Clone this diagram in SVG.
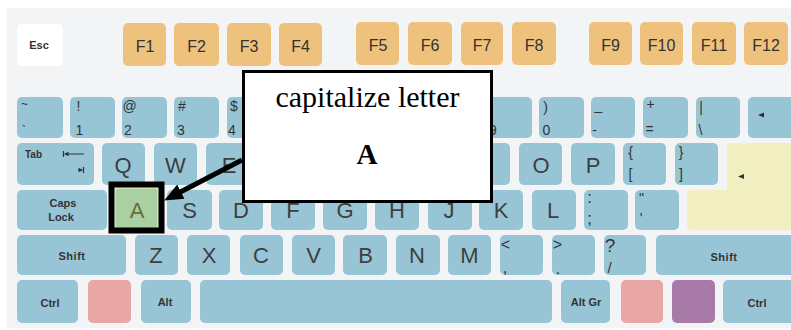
<svg xmlns="http://www.w3.org/2000/svg" width="791" height="330" viewBox="0 0 791 330">
<defs>
<style>
.k{fill:#98c5d6}
.fk{fill:#eec17d}
.wk{fill:#ffffff}
.pk{fill:#e8a7a5}
.pu{fill:#a87aa8}
.ye{fill:#f1eec0}
.gr{fill:#a9d0a2;stroke:#dfe8b5;stroke-width:1.5}
.L{font-family:"Liberation Sans",Arial,sans-serif;font-size:22px;fill:#3e3e3e;text-anchor:middle}
.F{font-family:"Liberation Sans",Arial,sans-serif;font-size:16px;fill:#333;text-anchor:middle}
.S{font-family:"Liberation Sans",Arial,sans-serif;font-size:14px;fill:#333;text-anchor:middle}
.B{font-family:"Liberation Sans",Arial,sans-serif;font-size:11px;font-weight:bold;fill:#333;text-anchor:middle}
.ic{fill:#333}
.icl{stroke:#333;stroke-width:1.2;fill:none}
.serif{font-family:"Liberation Serif","Times New Roman",serif;fill:#000;text-anchor:middle}
</style>
<marker id="ah" markerUnits="userSpaceOnUse" markerWidth="20" markerHeight="18" viewBox="0 0 20 18" refX="5" refY="9" orient="auto">
<path d="M0,1 L19,9 L0,17 Z" fill="#000"/>
</marker>
</defs>
<rect x="7" y="8" width="790" height="320" fill="#f3f4f6"/>

<!-- Function row -->
<g id="key-esc"><rect class="wk" x="17" y="24" width="46" height="42" rx="5"/><text class="B" x="39" y="49">Esc</text></g>
<g id="key-f1"><rect class="fk" x="123" y="23" width="43" height="43" rx="5"/><text class="F" x="145" y="52">F1</text></g>
<g id="key-f2"><rect class="fk" x="174" y="23" width="45" height="43" rx="5"/><text class="F" x="196.5" y="52">F2</text></g>
<g id="key-f3"><rect class="fk" x="227" y="23" width="44" height="43" rx="5"/><text class="F" x="249" y="52">F3</text></g>
<g id="key-f4"><rect class="fk" x="279" y="23" width="43" height="43" rx="5"/><text class="F" x="300.5" y="52">F4</text></g>
<g id="key-f5"><rect class="fk" x="356" y="22" width="43" height="43" rx="5"/><text class="F" x="378" y="51">F5</text></g>
<g id="key-f6"><rect class="fk" x="408" y="22" width="44" height="43" rx="5"/><text class="F" x="430" y="51">F6</text></g>
<g id="key-f7"><rect class="fk" x="461" y="22" width="42" height="43" rx="5"/><text class="F" x="482" y="51">F7</text></g>
<g id="key-f8"><rect class="fk" x="512" y="22" width="44" height="43" rx="5"/><text class="F" x="534" y="51">F8</text></g>
<g id="key-f9"><rect class="fk" x="589" y="22" width="43" height="43" rx="5"/><text class="F" x="610.5" y="51">F9</text></g>
<g id="key-f10"><rect class="fk" x="640" y="22" width="43" height="43" rx="5"/><text class="F" x="661.5" y="51">F10</text></g>
<g id="key-f11"><rect class="fk" x="692" y="22" width="44" height="43" rx="5"/><text class="F" x="714" y="51">F11</text></g>
<g id="key-f12"><rect class="fk" x="744" y="22" width="44" height="43" rx="5"/><text class="F" x="766" y="51">F12</text></g>

<!-- Number row -->
<g id="key-grave"><rect class="k" x="17" y="97" width="46" height="41" rx="5"/><text class="S" style="font-size:12px" x="24.5" y="108">~</text><text class="S" style="font-size:12px" x="24" y="135">`</text></g>
<g id="key-1"><rect class="k" x="70" y="97" width="45" height="41" rx="5"/><text class="S" x="78.5" y="111">!</text><text class="S" x="79.5" y="135">1</text></g>
<g id="key-2"><rect class="k" x="122" y="97" width="45" height="41" rx="5"/><text class="S" x="129.5" y="111">@</text><text class="S" x="128" y="135">2</text></g>
<g id="key-3"><rect class="k" x="174" y="97" width="45" height="41" rx="5"/><text class="S" x="182" y="111">#</text><text class="S" x="181" y="135">3</text></g>
<g id="key-4"><rect class="k" x="227" y="97" width="45" height="41" rx="5"/><text class="S" x="234" y="111">$</text><text class="S" x="232" y="135">4</text></g>
<g id="key-5"><rect class="k" x="279" y="97" width="45" height="41" rx="5"/></g>
<g id="key-6"><rect class="k" x="331" y="97" width="45" height="41" rx="5"/></g>
<g id="key-7"><rect class="k" x="383" y="97" width="45" height="41" rx="5"/></g>
<g id="key-8"><rect class="k" x="435" y="97" width="45" height="41" rx="5"/></g>
<g id="key-9"><rect class="k" x="487" y="97" width="45" height="41" rx="5"/><text class="S" x="493" y="135">9</text></g>
<g id="key-0"><rect class="k" x="539" y="97" width="45" height="41" rx="5"/><text class="S" x="545.5" y="112">)</text><text class="S" x="546.5" y="135">0</text></g>
<g id="key-minus"><rect class="k" x="591" y="97" width="44" height="41" rx="5"/><text class="S" x="598.5" y="110">_</text><text class="S" x="594.5" y="135">-</text></g>
<g id="key-equal"><rect class="k" x="643" y="97" width="45" height="41" rx="5"/><text class="S" x="650.5" y="108.5">+</text><text class="S" x="649.5" y="134">=</text></g>
<g id="key-backslash"><rect class="k" x="696" y="97" width="44" height="41" rx="5"/><text class="S" x="701" y="112">|</text><text class="S" x="700.5" y="135">\</text></g>
<g id="key-backspace"><rect class="k" x="748" y="97" width="47" height="41" rx="5"/><polygon class="ic" points="758,115 764,112.5 764,117.5"/></g>

<!-- Tab row -->
<g id="key-tab"><rect class="k" x="17" y="143" width="77" height="42" rx="5"/><text class="B" style="font-size:10px;text-anchor:start" x="25" y="158">Tab</text>
<path class="icl" d="M63.5,151 V157 M65,154 H84"/><polygon class="ic" points="64,154 68.5,151.8 68.5,156.2"/>
<path class="icl" d="M83.5,167 V173 M78,170 H82"/><polygon class="ic" points="83,170 78.5,167.8 78.5,172.2"/></g>
<g id="key-q"><rect class="k" x="102" y="143" width="43" height="42" rx="5"/><text class="L" x="123" y="172.5">Q</text></g>
<g id="key-w"><rect class="k" x="154" y="143" width="43" height="42" rx="5"/><text class="L" x="175.5" y="172.5">W</text></g>
<g id="key-e"><rect class="k" x="206" y="143" width="44" height="42" rx="5"/><text class="L" x="229" y="172.5">E</text></g>
<g id="key-r"><rect class="k" x="258" y="143" width="44" height="42" rx="5"/></g>
<g id="key-t"><rect class="k" x="310" y="143" width="44" height="42" rx="5"/></g>
<g id="key-y"><rect class="k" x="362" y="143" width="44" height="42" rx="5"/></g>
<g id="key-u"><rect class="k" x="414" y="143" width="44" height="42" rx="5"/></g>
<g id="key-i"><rect class="k" x="466" y="143" width="44" height="42" rx="5"/></g>
<g id="key-o"><rect class="k" x="519" y="143" width="43" height="42" rx="5"/><text class="L" x="541" y="172.5">O</text></g>
<g id="key-p"><rect class="k" x="571" y="143" width="44" height="42" rx="5"/><text class="L" x="593" y="172.5">P</text></g>
<g id="key-lbracket"><rect class="k" x="623" y="143" width="43" height="42" rx="5"/><text class="S" x="630.5" y="157">{</text><text class="S" x="630.5" y="179">[</text></g>
<g id="key-rbracket"><rect class="k" x="675" y="143" width="43" height="42" rx="5"/><text class="S" x="681" y="157">}</text><text class="S" x="681" y="179">]</text></g>
<g id="key-enter"><path class="ye" d="M732,143 H795 V230 H692 Q687,230 687,225 V195 Q687,190 692,190 H727 V148 Q727,143 732,143 Z"/><polygon class="ic" points="738,176.5 744,174 744,179"/></g>

<!-- Home row -->
<g id="key-caps"><rect class="k" x="17" y="190" width="90" height="40" rx="5"/><text class="B" x="63" y="207">Caps</text><text class="B" x="61" y="221">Lock</text></g>
<g id="key-a"><rect class="gr" x="115" y="188" width="43" height="41" rx="3"/><text class="L" x="137" y="218" style="fill:#6d6b33">A</text></g>
<g id="key-s"><rect class="k" x="167" y="190" width="45" height="40" rx="5"/><text class="L" x="189.5" y="218">S</text></g>
<g id="key-d"><rect class="k" x="219" y="190" width="44" height="40" rx="5"/><text class="L" x="241" y="218">D</text></g>
<g id="key-f"><rect class="k" x="271" y="190" width="44" height="40" rx="5"/><text class="L" x="293" y="218">F</text></g>
<g id="key-g"><rect class="k" x="323" y="190" width="44" height="40" rx="5"/><text class="L" x="345" y="218">G</text></g>
<g id="key-h"><rect class="k" x="375" y="190" width="44" height="40" rx="5"/><text class="L" x="397" y="218">H</text></g>
<g id="key-j"><rect class="k" x="428" y="190" width="44" height="40" rx="5"/><text class="L" x="449" y="218">J</text></g>
<g id="key-k"><rect class="k" x="479" y="190" width="44" height="40" rx="5"/><text class="L" x="501" y="218">K</text></g>
<g id="key-l"><rect class="k" x="532" y="190" width="44" height="40" rx="5"/><text class="L" x="553" y="218">L</text></g>
<g id="key-semicolon"><rect class="k" x="584" y="190" width="44" height="40" rx="5"/><text class="S" style="font-size:17px" x="589.5" y="203">:</text><text class="S" style="font-size:17px" x="589.5" y="224">;</text></g>
<g id="key-quote"><rect class="k" x="635" y="190" width="44" height="40" rx="5"/><text class="S" x="641.5" y="203">"</text><text class="S" x="641" y="222.5">'</text></g>

<!-- Shift row -->
<g id="key-lshift"><rect class="k" x="17" y="235" width="109" height="40" rx="5"/><text class="B" x="72" y="260" style="letter-spacing:0.5px">Shift</text></g>
<g id="key-z"><rect class="k" x="135" y="235" width="43" height="40" rx="5"/><text class="L" x="156" y="263">Z</text></g>
<g id="key-x"><rect class="k" x="187" y="235" width="43" height="40" rx="5"/><text class="L" x="209" y="263">X</text></g>
<g id="key-c"><rect class="k" x="240" y="235" width="43" height="40" rx="5"/><text class="L" x="261" y="263">C</text></g>
<g id="key-v"><rect class="k" x="292" y="235" width="43" height="40" rx="5"/><text class="L" x="313.5" y="263">V</text></g>
<g id="key-b"><rect class="k" x="343" y="235" width="44" height="40" rx="5"/><text class="L" x="365.5" y="263">B</text></g>
<g id="key-n"><rect class="k" x="396" y="235" width="44" height="40" rx="5"/><text class="L" x="417" y="263">N</text></g>
<g id="key-m"><rect class="k" x="448" y="235" width="43" height="40" rx="5"/><text class="L" x="469.5" y="263">M</text></g>
<g id="key-comma"><rect class="k" x="500" y="235" width="43" height="40" rx="5"/><text class="S" style="font-size:16px" x="505.5" y="249.5">&lt;</text><text class="S" style="font-size:16px" x="505" y="273">,</text></g>
<g id="key-period"><rect class="k" x="552" y="235" width="43" height="40" rx="5"/><text class="S" style="font-size:16px" x="557.5" y="249.5">&gt;</text><text class="S" style="font-size:16px" x="558" y="274">.</text></g>
<g id="key-slash"><rect class="k" x="604" y="235" width="42" height="40" rx="5"/><text class="S" style="font-size:19px" x="610" y="252">?</text><text class="S" style="font-size:15px" x="609.5" y="273">/</text></g>
<g id="key-rshift"><rect class="k" x="656" y="235" width="139" height="40" rx="5"/><text class="B" x="724" y="261" style="letter-spacing:0.5px">Shift</text></g>

<!-- Bottom row -->
<g id="key-lctrl"><rect class="k" x="17" y="280" width="61" height="43" rx="5"/><text class="B" x="50" y="307">Ctrl</text></g>
<g id="key-lwin"><rect class="pk" x="88" y="280" width="43" height="43" rx="5"/></g>
<g id="key-alt"><rect class="k" x="141" y="280" width="50" height="43" rx="5"/><text class="B" x="165" y="306">Alt</text></g>
<g id="key-space"><rect class="k" x="200" y="280" width="352" height="43" rx="5"/></g>
<g id="key-altgr"><rect class="k" x="561" y="280" width="49" height="43" rx="5"/><text class="B" x="586" y="306">Alt Gr</text></g>
<g id="key-rwin"><rect class="pk" x="621" y="280" width="42" height="43" rx="5"/></g>
<g id="key-menu"><rect class="pu" x="672" y="280" width="43" height="43" rx="5"/></g>
<g id="key-rctrl"><rect class="k" x="723" y="280" width="72" height="43" rx="5"/><text class="B" x="757" y="307">Ctrl</text></g>

<!-- Highlight frame around A -->
<g id="highlight-a"><rect x="111.5" y="184.5" width="50" height="46" fill="none" stroke="#000" stroke-width="6"/></g>

<!-- Callout -->
<g id="callout">
<rect x="243.5" y="71.5" width="248" height="130" fill="#fff" stroke="#000" stroke-width="3"/>
<text class="serif" x="367.5" y="107" style="font-size:30px">capitalize letter</text>
<text class="serif" x="367" y="164" style="font-size:29px;font-weight:bold">A</text>
</g>

<!-- Connectors -->
<g id="connectors">
<line x1="242" y1="160" x2="176.5" y2="194" stroke="#000" stroke-width="5" marker-end="url(#ah)"/>
</g>
</svg>
